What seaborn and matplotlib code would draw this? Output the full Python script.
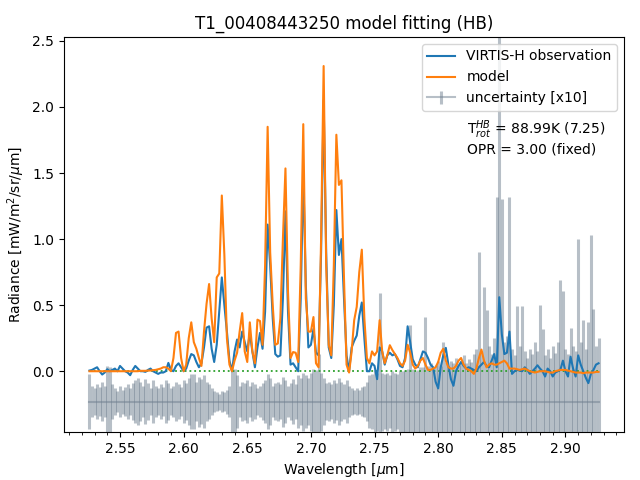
import numpy as np
import matplotlib
matplotlib.use("Agg")
import matplotlib.pyplot as plt
import seaborn as sns
from matplotlib.ticker import MultipleLocator

# wavelength grid of the spectrum [um]
wavelength = np.linspace(2.526, 2.926, 201)

# VIRTIS-H radiance [mW/m2/sr/um]
observation = [
    0.005, 0.01, 0.02, 0.03, 0.0, -0.025, -0.01, 0.015, 0.0, 0.01,
    0.02, 0.0, 0.04, 0.02, 0.0, -0.01, -0.03, 0.01, 0.04, 0.02,
    0.0, 0.0, -0.005, 0.01, 0.02, 0.0, -0.01, -0.02, -0.01, -0.01,
    0.0, 0.063, 0.01, 0.0, 0.04, 0.06, 0.03, 0.0, 0.02, 0.08,
    0.13, 0.12, 0.07, 0.03, 0.06, 0.18, 0.33, 0.34, 0.17, 0.07,
    0.20, 0.45, 0.71, 0.50, 0.30, 0.08, 0.0, 0.15, 0.24, 0.18,
    0.30, 0.22, 0.15, 0.29, 0.15, 0.03, 0.18, 0.29, 0.17, 0.45,
    1.11, 0.80, 0.40, 0.13, 0.11, 0.12, 0.55, 1.21, 0.45, 0.05,
    0.06, 0.03, 0.0, 0.55, 1.50, 0.65, 0.18, 0.20, 0.32, 0.14,
    0.12, 0.90, 2.05, 0.90, 0.18, 0.10, 0.50, 1.22, 0.88, 1.00,
    0.55, 0.12, 0.0, 0.18, 0.23, 0.27, 0.42, 0.52, 0.25, 0.0,
    0.0, 0.06, 0.04, -0.06, 0.18, 0.15, 0.05, 0.12, 0.14, 0.12,
    0.13, 0.09, 0.04, 0.03, 0.10, 0.34, 0.22, 0.09, 0.05, 0.03,
    0.09, 0.15, 0.14, 0.10, 0.05, 0.03, -0.08, -0.13, 0.03, 0.12,
    0.177, 0.05, -0.06, -0.11, 0.0, 0.04, 0.07, 0.04, 0.02, 0.03,
    0.02, 0.01, 0.0, 0.03, 0.05, 0.07, 0.04, 0.03, 0.08, 0.13,
    0.03, 0.56, 0.28, 0.13, 0.14, 0.30, -0.02, 0.0, 0.01, 0.005,
    0.0, 0.03, 0.01, -0.02, 0.0, 0.02, 0.045, 0.02, 0.0, -0.04,
    0.02, 0.0, -0.04, -0.01, 0.0, 0.01, 0.08, 0.0, -0.04, 0.11,
    0.02, -0.04, 0.12, 0.05, 0.0, -0.05, -0.09, -0.02, 0.01, 0.05,
    0.06,
]

# fitted model
model = [
    0.0, 0.0, 0.0, 0.0, 0.0, 0.0, 0.0, 0.0, 0.0, 0.0,
    0.0, 0.0, 0.0, 0.0, 0.0, 0.0, 0.0, 0.0, 0.0, 0.0,
    0.003, 0.003, 0.003, 0.005, 0.005, 0.008, 0.01, 0.015, 0.02, 0.03,
    0.03, 0.02, 0.0, 0.10, 0.29, 0.30, 0.10, 0.0, 0.05, 0.25,
    0.37, 0.22, 0.17, 0.10, 0.04, 0.30, 0.51, 0.66, 0.40, 0.22,
    0.71, 0.74, 1.33, 0.88, 0.25, 0.05, 0.0, 0.08, 0.14, 0.30,
    0.44, 0.15, 0.07, 0.37, 0.15, 0.06, 0.39, 0.38, 0.20, 0.80,
    1.85, 0.90, 0.50, 0.20, 0.21, 0.40, 1.00, 1.535, 0.60, 0.10,
    0.145, 0.14, 0.07, 0.80, 1.87, 0.55, 0.30, 0.30, 0.41, 0.06,
    0.03, 1.00, 2.31, 0.80, 0.20, 0.12, 0.80, 1.79, 1.41, 1.445,
    0.70, 0.05, -0.01, 0.15, 0.386, 0.487, 0.75, 0.92, 0.40, 0.10,
    0.06, 0.15, 0.12, 0.15, 0.386, 0.15, 0.06, 0.12, 0.197, 0.16,
    0.13, 0.10, 0.06, 0.04, 0.08, 0.20, 0.14, 0.05, 0.02, 0.04,
    0.08, 0.10, 0.05, 0.01, 0.01, 0.02, 0.03, 0.07, 0.14, 0.17,
    0.08, 0.03, 0.02, 0.02, 0.04, 0.08, 0.10, 0.05, 0.02, 0.01,
    0.0, -0.02, 0.02, 0.10, 0.164, 0.08, 0.03, 0.05, 0.06, 0.05,
    0.05, 0.06, 0.07, 0.08, 0.06, 0.02, 0.02, 0.02, 0.015, 0.01,
    0.015, 0.02, 0.01, 0.0, -0.005, -0.01, -0.005, 0.0, 0.0, 0.0,
    -0.005, -0.01, -0.01, 0.0, 0.005, 0.01, 0.01, 0.01, 0.005, 0.0,
    -0.005, -0.01, -0.01, -0.01, -0.015, -0.01, -0.01, -0.01, -0.01, -0.005,
    -0.005,
]

# 1-sigma uncertainty on the radiance
uncertainty = [
    0.021, 0.012, 0.010, 0.013, 0.011, 0.015, 0.012, 0.027, 0.026, 0.013,
    0.010, 0.008, 0.012, 0.009, 0.011, 0.013, 0.010, 0.014, 0.016, 0.018,
    0.015, 0.012, 0.017, 0.014, 0.010, 0.016, 0.012, 0.010, 0.013, 0.011,
    0.016, 0.014, 0.010, 0.012, 0.015, 0.013, 0.011, 0.016, 0.014, 0.018,
    0.021, 0.021, 0.015, 0.019, 0.017, 0.020, 0.015, 0.013, 0.010, 0.008,
    0.007, 0.006, 0.008, 0.007, 0.009, 0.012, 0.025, 0.025, 0.020, 0.012,
    0.015, 0.014, 0.016, 0.012, 0.015, 0.013, 0.010, 0.012, 0.014, 0.016,
    0.021, 0.018, 0.012, 0.014, 0.015, 0.013, 0.019, 0.016, 0.012, 0.014,
    0.017, 0.013, 0.020, 0.018, 0.022, 0.020, 0.018, 0.022, 0.025, 0.024,
    0.036, 0.022, 0.018, 0.014, 0.015, 0.013, 0.016, 0.014, 0.018, 0.015,
    0.013, 0.016, 0.012, 0.010, 0.009, 0.010, 0.009, 0.011, 0.012, 0.015,
    0.020, 0.021, 0.024, 0.022, 0.082, 0.022, 0.021, 0.022, 0.020, 0.023,
    0.022, 0.021, 0.024, 0.023, 0.024, 0.025, 0.058, 0.025, 0.023, 0.024,
    0.026, 0.026, 0.064, 0.027, 0.029, 0.025, 0.028, 0.031, 0.027, 0.045,
    0.030, 0.027, 0.031, 0.029, 0.033, 0.028, 0.031, 0.035, 0.029, 0.032,
    0.030, 0.036, 0.040, 0.113, 0.038, 0.087, 0.069, 0.042, 0.036, 0.048,
    0.155, 0.300, 0.153, 0.045, 0.050, 0.155, 0.040, 0.035, 0.072, 0.042,
    0.072, 0.038, 0.033, 0.040, 0.036, 0.045, 0.038, 0.073, 0.055, 0.035,
    0.040, 0.033, 0.042, 0.037, 0.045, 0.092, 0.084, 0.040, 0.036, 0.056,
    0.042, 0.038, 0.123, 0.045, 0.062, 0.040, 0.060, 0.126, 0.070, 0.042,
    0.048,
]

# spectral ranges used as zero continuum
continuum_ranges = [(2.526, 2.590), (2.774, 2.926)]

uncert_offset = -0.23
uncert_scale = 10

fig, ax = plt.subplots(figsize=(6.4, 4.8), dpi=100)

ax.errorbar(wavelength, np.full(len(wavelength), uncert_offset),
            yerr=uncert_scale * np.array(uncertainty),
            color='slategray', alpha=0.5, elinewidth=2.2,
            label='uncertainty [x10]')

cont = np.zeros(len(wavelength), dtype=bool)
for lo, hi in continuum_ranges:
    cont |= (wavelength >= lo - 1e-9) & (wavelength <= hi + 1e-9)
ax.plot(wavelength[cont], np.zeros(cont.sum()), ':', color='tab:green',
        linewidth=1.3)

sns.lineplot(x=wavelength, y=observation, color='tab:blue',
             label='VIRTIS-H observation', ax=ax)
sns.lineplot(x=wavelength, y=model, color='tab:orange', label='model', ax=ax)

ax.set_ylim(-0.46, 2.53)
ax.xaxis.set_minor_locator(MultipleLocator(0.01))
ax.set_xlabel(r'Wavelength [$\mu$m]')
ax.set_ylabel(r'Radiance [mW/m$^2$/sr/$\mu$m]')
ax.set_title('T1_00408443250 model fitting (HB)')
ax.legend(loc='upper right')
ax.text(0.72, 0.795, 'T$_{rot}^{HB}$ = 88.99K (7.25)\nOPR = 3.00 (fixed)',
        transform=ax.transAxes, va='top', ha='left')

fig.subplots_adjust(left=0.1, right=0.975, top=0.923, bottom=0.1)
fig.savefig('out.png')
